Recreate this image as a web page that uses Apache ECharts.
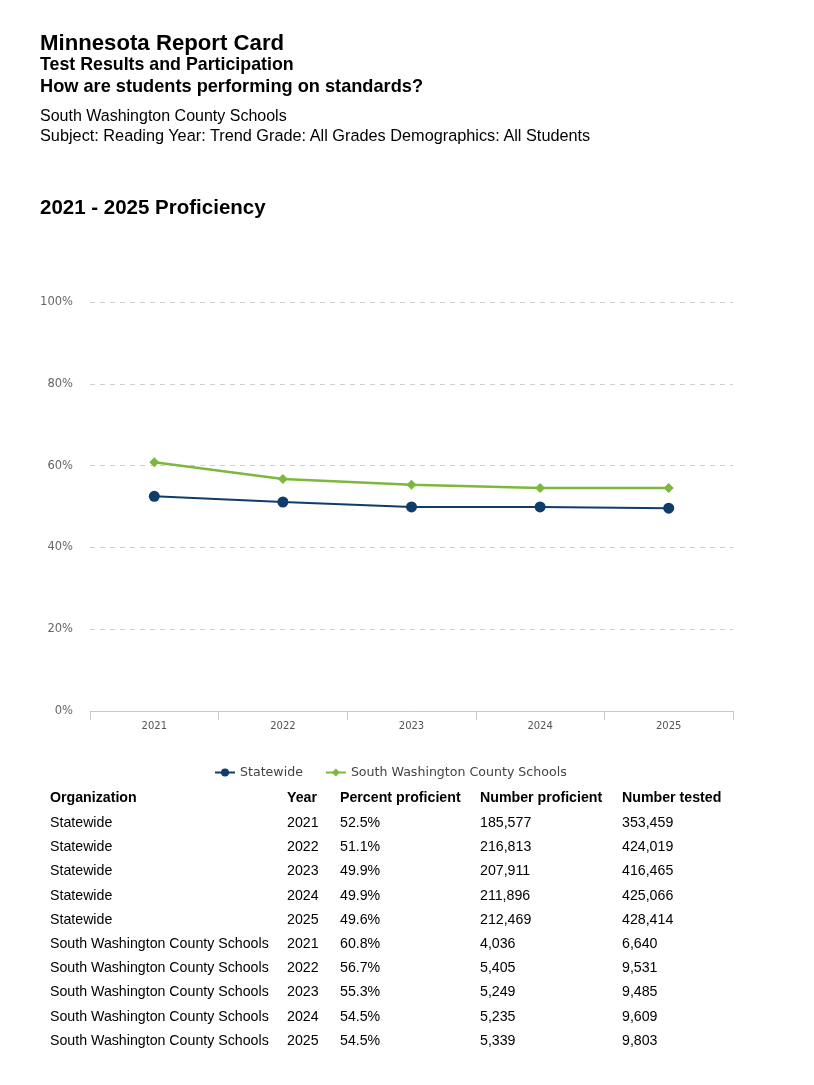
<!DOCTYPE html>
<html>
<head>
<meta charset="utf-8">
<script src="https://cdn.jsdelivr.net/npm/echarts@6/dist/echarts.min.js"></script>
<style>
  html, body { margin: 0; padding: 0; background: #fff; }
  #wrap { position: relative; width: 814px; height: 1085px; overflow: hidden; }
  #chart { position: absolute; left: 0; top: 0; width: 814px; height: 1085px; }
  .t { position: absolute; left: 40px; font-family: "Liberation Sans", Arial, sans-serif; color: #000; white-space: nowrap; height: 24px; line-height: 24px; }
  .b { font-weight: bold; }
  .cell { position: absolute; font-family: "Liberation Sans", Arial, sans-serif; font-size: 14.2px; color: #000; white-space: nowrap; height: 20px; line-height: 20px; }
</style>
</head>
<body>
<div id="wrap">
  <div id="chart"></div>
  <div class="t b" style="top:31px;font-size:22.2px;">Minnesota Report Card</div>
  <div class="t b" style="top:52px;font-size:17.8px;">Test Results and Participation</div>
  <div class="t b" style="top:74px;font-size:18.2px;">How are students performing on standards?</div>
  <div class="t" style="top:104px;font-size:16px;">South Washington County Schools</div>
  <div class="t" style="top:123px;font-size:16.3px;">Subject: Reading Year: Trend Grade: All Grades Demographics: All Students</div>
  <div class="t b" style="top:195px;font-size:20.5px;">2021 - 2025 Proficiency</div>
  <div id="table"></div>
</div>
<script>
const years = ['2021', '2022', '2023', '2024', '2025'];
const statewide = [52.5, 51.1, 49.9, 49.9, 49.6];
const swcs = [60.8, 56.7, 55.3, 54.5, 54.5];
const seriesNames = ['Statewide', 'South Washington County Schools'];
const yTicks = ['0%', '20%', '40%', '60%', '80%', '100%'];

const tableHeader = ['Organization', 'Year', 'Percent proficient', 'Number proficient', 'Number tested'];
const statewideProficientCounts = ['185,577', '216,813', '207,911', '211,896', '212,469'];
const statewideTestedCounts = ['353,459', '424,019', '416,465', '425,066', '428,414'];
const swcsProficientCounts = ['4,036', '5,405', '5,249', '5,235', '5,339'];
const swcsTestedCounts = ['6,640', '9,531', '9,485', '9,609', '9,803'];

// Build table
const colX = [50, 287, 340, 480, 622];
const tbl = document.getElementById('table');
function addRow(cells, y, bold) {
  cells.forEach((c, i) => {
    const d = document.createElement('div');
    d.className = 'cell';
    d.style.left = colX[i] + 'px';
    d.style.top = (y - 10) + 'px';
    if (bold) d.style.fontWeight = 'bold';
    d.textContent = c;
    tbl.appendChild(d);
  });
}
addRow(tableHeader, 797, true);
const rows = [];
years.forEach((y, i) => rows.push([seriesNames[0], y, statewide[i].toFixed(1) + '%', statewideProficientCounts[i], statewideTestedCounts[i]]));
years.forEach((y, i) => rows.push([seriesNames[1], y, swcs[i].toFixed(1) + '%', swcsProficientCounts[i], swcsTestedCounts[i]]));
rows.forEach((r, i) => addRow(r, 822 + i * 24.2, false));

const chart = echarts.init(document.getElementById('chart'), null, { renderer: 'canvas' });
chart.setOption({
  animation: false,
  legend: {
    data: seriesNames,
    left: 209,
    top: 761,
    itemWidth: 20,
    itemHeight: 10,
    itemGap: 22,
    textStyle: { fontFamily: 'DejaVu Sans', fontSize: 12.6, color: '#444' }
  },
  grid: { left: 90, right: 81, top: 302, bottom: 374, containLabel: false },
  xAxis: {
    type: 'category',
    data: years,
    boundaryGap: true,
    axisLine: { lineStyle: { color: '#c8c8c8', width: 1 } },
    axisTick: { show: true, length: 9, lineStyle: { color: '#c8c8c8' } },
    axisLabel: { fontFamily: 'DejaVu Sans', fontSize: 10, color: '#555', margin: 10 }
  },
  yAxis: {
    type: 'value',
    min: 0,
    max: 100,
    interval: 20,
    axisLine: { show: false },
    axisTick: { show: false },
    axisLabel: {
      fontFamily: 'DejaVu Sans', fontSize: 11.5, color: '#666', margin: 17,
      formatter: v => yTicks[Math.round(v / 20)]
    },
    splitLine: { lineStyle: { color: '#cfcfcf', type: [5, 5], width: 1 } }
  },
  series: [
    {
      name: seriesNames[0], type: 'line', data: statewide,
      symbol: 'circle', symbolSize: 11,
      itemStyle: { color: '#0f3c68' },
      lineStyle: { color: '#0f3c68', width: 2 }
    },
    {
      name: seriesNames[1], type: 'line', data: swcs,
      symbol: 'diamond', symbolSize: 10,
      itemStyle: { color: '#7cb83c' },
      lineStyle: { color: '#7cb83c', width: 2.5 }
    }
  ]
});
</script>
</body>
</html>
